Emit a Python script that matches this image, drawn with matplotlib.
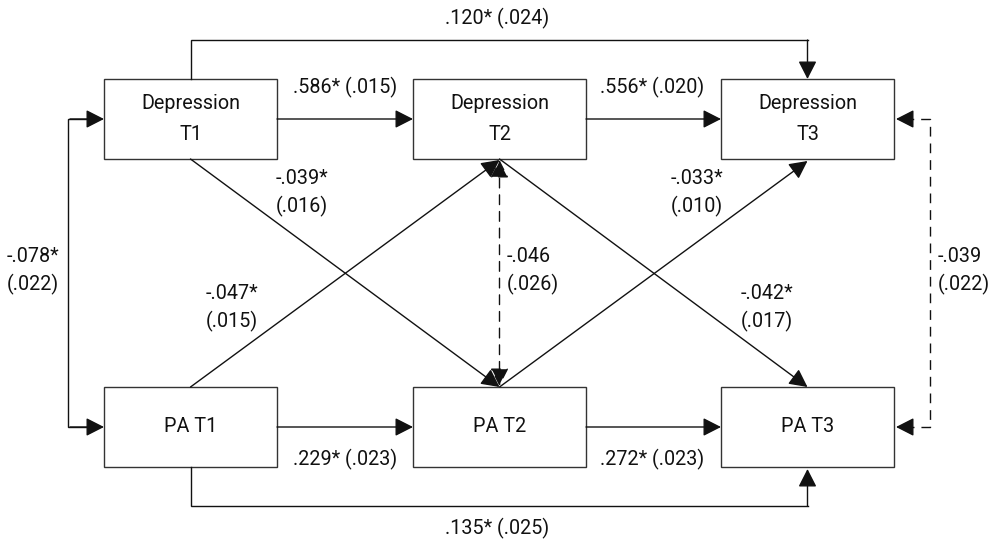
import matplotlib
matplotlib.use("Agg")
import matplotlib.pyplot as plt
from matplotlib.patches import Rectangle, FancyArrowPatch, ArrowStyle

# ---- data ----
node_labels = ["Depression\nT1", "Depression\nT2", "Depression\nT3", "PA T1", "PA T2", "PA T3"]
autoregressive = [".586* (.015)", ".556* (.020)", ".229* (.023)", ".272* (.023)"]
lag2 = [".120* (.024)", ".135* (.025)"]
cross_lagged = ["-.039*\n(.016)", "-.033*\n(.010)", "-.047*\n(.015)", "-.042*\n(.017)"]
covariances = ["-.078*\n(.022)", "-.046\n(.026)", "-.039\n(.022)"]

plt.rcParams['font.family'] = ['Roboto', 'DejaVu Sans']
FS = 14.2
fig = plt.figure(figsize=(9.97, 5.41), dpi=100)
ax = fig.add_axes([0, 0, 1, 1])
ax.set_xlim(0, 997)
ax.set_ylim(541, 0)
ax.axis('off')

LW = 1.0
col = "#111111"
HL, HW = 11, 5.6
style = ArrowStyle("-|>", head_length=HL, head_width=HW)
DASH = (0, (7, 5))

# layout
xs = [104, 413, 721]
bw, bh = 173, 80
ys = [79, 387]
idx = 0
for r, y in enumerate(ys):
    for c, x in enumerate(xs):
        ax.add_patch(Rectangle((x, y), bw, bh, fill=False, lw=LW, ec="#333333"))
        ax.text(x + bw / 2, y + bh / 2, node_labels[idx], ha='center', va='center',
                fontsize=FS, linespacing=1.8, color=col)
        idx += 1

def arrow(p0, p1, dashed=False, both=False):
    st = ArrowStyle("<|-|>", head_length=HL, head_width=HW) if both else style
    a = FancyArrowPatch(p0, p1, arrowstyle=st, mutation_scale=1, lw=LW, color=col,
                        linestyle=DASH if dashed else '-', shrinkA=0, shrinkB=0)
    ax.add_patch(a)

def poly(xsq, ysq, dashed=False):
    ax.plot(xsq, ysq, color=col, lw=LW, ls=DASH if dashed else '-',
            solid_joinstyle='miter')

ymid_top = ys[0] + bh / 2
ymid_bot = ys[1] + bh / 2
cx = [x + bw / 2 for x in xs]
top_b = ys[0] + bh
bot_t = ys[1]

# autoregressive
for i in range(2):
    arrow((xs[i] + bw, ymid_top), (xs[i + 1], ymid_top))
    arrow((xs[i] + bw, ymid_bot), (xs[i + 1], ymid_bot))

# lag-2 paths
poly([cx[0], cx[0], cx[2]], [ys[0], 40, 40])
arrow((cx[2], 40), (cx[2], ys[0]))
poly([cx[0], cx[0], cx[2]], [ys[1] + bh, 506, 506])
arrow((cx[2], 506), (cx[2], ys[1] + bh + 2))

# cross-lagged
arrow((cx[0], top_b), (cx[1], bot_t))
arrow((cx[0], bot_t), (cx[1], top_b + 1))
arrow((cx[1], top_b), (cx[2], bot_t))
arrow((cx[1], bot_t), (cx[2], top_b + 2))

# covariances
poly([xs[0] - 8, 68, 68, xs[0] - 8], [ymid_top, ymid_top, ymid_bot, ymid_bot])
arrow((70, ymid_top), (xs[0], ymid_top))
arrow((70, ymid_bot), (xs[0], ymid_bot))
arrow((cx[1], top_b + 1), (cx[1], bot_t - 1), dashed=True, both=True)
rx = xs[2] + bw + 36
poly([xs[2] + bw + 10, rx, rx, xs[2] + bw + 10], [ymid_top, ymid_top, ymid_bot, ymid_bot], dashed=True)
arrow((xs[2] + bw + 14, ymid_top), (xs[2] + bw + 2, ymid_top))
arrow((xs[2] + bw + 14, ymid_bot), (xs[2] + bw + 2, ymid_bot))

# labels
kw = dict(fontsize=FS, color=col, linespacing=1.5)
ax.text(345, 87, autoregressive[0], ha='center', va='center', **kw)
ax.text(652, 87, autoregressive[1], ha='center', va='center', **kw)
ax.text(345, 459, autoregressive[2], ha='center', va='center', **kw)
ax.text(652, 459, autoregressive[3], ha='center', va='center', **kw)
ax.text(497, 18, lag2[0], ha='center', va='center', **kw)
ax.text(497, 528, lag2[1], ha='center', va='center', **kw)
ax.text(276, 193, cross_lagged[0], ha='left', va='center', **kw)
ax.text(723, 193, cross_lagged[1], ha='right', va='center', **kw)
ax.text(258, 308, cross_lagged[2], ha='right', va='center', **kw)
ax.text(741, 308, cross_lagged[3], ha='left', va='center', **kw)
ax.text(33, 271, covariances[0], ha='center', va='center', **kw)
ax.text(507, 271, covariances[1], ha='left', va='center', **kw)
ax.text(938, 271, covariances[2], ha='left', va='center', **kw)

fig.savefig("out.png", dpi=100)
